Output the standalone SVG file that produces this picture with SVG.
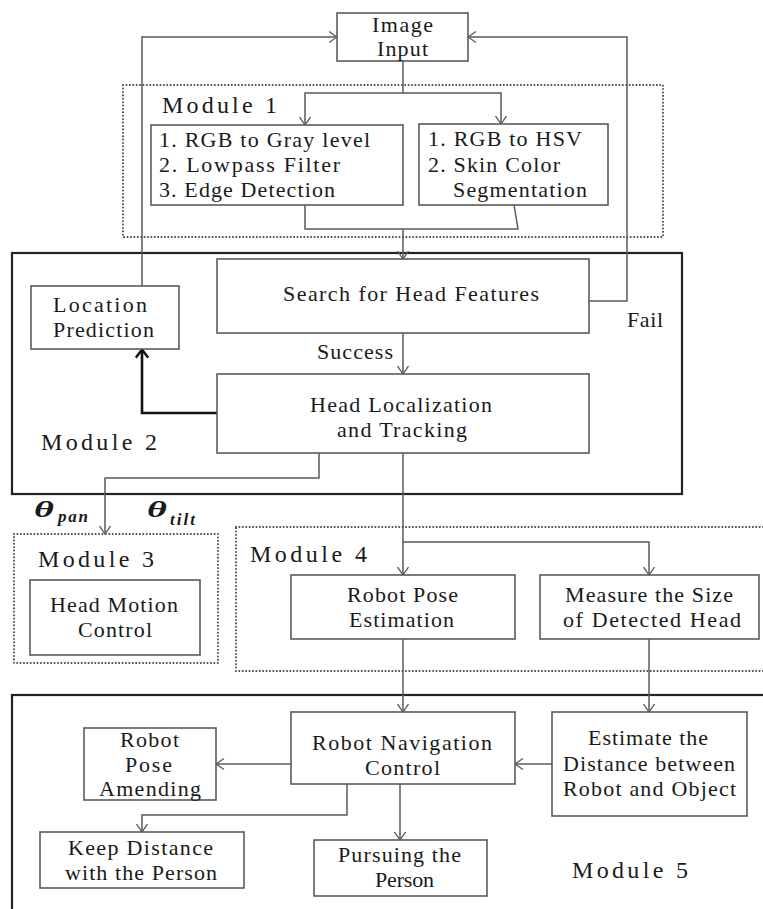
<svg xmlns="http://www.w3.org/2000/svg" width="763" height="909" viewBox="0 0 763 909">
<style>
.bg{fill:#fff}
.box{fill:#fff;stroke:#5a5a5a;stroke-width:1.6}
.mod{fill:none;stroke:#222;stroke-width:2.2}
.dot{fill:none;stroke:#444;stroke-width:1.9;stroke-dasharray:0.1 3.3;stroke-linecap:round}
.c{fill:none;stroke:#5a5a5a;stroke-width:1.5}
.ck{fill:none;stroke:#111;stroke-width:2.6}
text{font-family:"Liberation Serif","Times New Roman",serif;fill:#1a1a1a;font-size:22px}
.m{font-size:24px}
.th{font-style:italic;font-weight:bold;font-size:24px}
.sub{font-style:italic;font-weight:bold;font-size:17px}
</style>
<defs>
<marker id="a" viewBox="0 0 9 12" refX="8.5" refY="6" markerWidth="9" markerHeight="12" markerUnits="userSpaceOnUse" orient="auto">
<path d="M0.5,0.5 L8.5,6 L0.5,11.5" fill="none" stroke="#5a5a5a" stroke-width="1.3"/>
</marker>
<marker id="ak" viewBox="0 0 10 14" refX="9.5" refY="7" markerWidth="10" markerHeight="14" markerUnits="userSpaceOnUse" orient="auto">
<path d="M0.8,0.8 L9,7 L0.8,13.2" fill="none" stroke="#111" stroke-width="2.4"/>
</marker>
</defs>
<rect class="bg" x="0" y="0" width="763" height="909"/>

<g id="module1">
<rect class="dot" x="123" y="85" width="540" height="152"/>
<text class="m" x="162" y="113" textLength="115" lengthAdjust="spacing">Module  1</text>
</g>
<g id="module2">
<rect class="mod" x="12" y="253" width="670" height="241"/>
<text class="m" x="41" y="450" textLength="116" lengthAdjust="spacing">Module  2</text>
</g>
<g id="module3">
<rect class="dot" x="14" y="534" width="204" height="129"/>
<text class="m" x="38" y="567" textLength="116" lengthAdjust="spacing">Module  3</text>
</g>
<g id="module4">
<rect class="dot" x="236" y="527" width="540" height="144"/>
<text class="m" x="250" y="562" textLength="117" lengthAdjust="spacing">Module  4</text>
</g>
<g id="module5">
<rect class="mod" x="12" y="695" width="770" height="230"/>
<text class="m" x="572" y="878" textLength="116" lengthAdjust="spacing">Module  5</text>
</g>

<g id="connectors">
<path class="c" d="M142,286 V37 H337" marker-end="url(#a)"/>
<path class="c" d="M589,301 H627 V37 H468" marker-end="url(#a)"/>
<path class="c" d="M403,61 V93"/>
<path class="c" d="M403,93 H305 V125" marker-end="url(#a)"/>
<path class="c" d="M403,93 H501 V124" marker-end="url(#a)"/>
<path class="c" d="M305,205 V229 H518 L514,205"/>
<path class="c" d="M403,229 V259" marker-end="url(#a)"/>
<path class="c" d="M403,333 V374" marker-end="url(#a)"/>
<path class="ck" d="M217,413 H142 V349" marker-end="url(#ak)"/>
<path class="c" d="M319,453 V478 H105 V534" marker-end="url(#a)"/>
<path class="c" d="M403,453 V575" marker-end="url(#a)"/>
<path class="c" d="M403,542 H649 V575" marker-end="url(#a)"/>
<path class="c" d="M403,639 V712" marker-end="url(#a)"/>
<path class="c" d="M649,639 V712" marker-end="url(#a)"/>
<path class="c" d="M552,764 H515" marker-end="url(#a)"/>
<path class="c" d="M291,764 H216" marker-end="url(#a)"/>
<path class="c" d="M347,784 V815 H142 V832" marker-end="url(#a)"/>
<path class="c" d="M400,784 V840" marker-end="url(#a)"/>
<text x="317" y="359" textLength="76" lengthAdjust="spacing">Success</text>
<text x="627" y="327" textLength="36" lengthAdjust="spacing">Fail</text>
<text class="th" transform="translate(34,517) scale(1.6,1)">θ</text>
<text class="sub" x="58" y="522" textLength="30" lengthAdjust="spacing">pan</text>
<text class="th" transform="translate(147,517) scale(1.6,1)">θ</text>
<text class="sub" x="170" y="525" textLength="25" lengthAdjust="spacing">tilt</text>
</g>

<g id="image-input">
<rect class="box" x="337" y="13" width="131" height="48"/>
<text x="372" y="32" textLength="61" lengthAdjust="spacing">Image</text>
<text x="377" y="56" textLength="51" lengthAdjust="spacing">Input</text>
</g>
<g id="gray-edge">
<rect class="box" x="151" y="125" width="252" height="80"/>
<text x="159" y="147" textLength="211" lengthAdjust="spacing">1. RGB to Gray level</text>
<text x="159" y="172" textLength="181" lengthAdjust="spacing">2. Lowpass Filter</text>
<text x="159" y="197" textLength="176" lengthAdjust="spacing">3. Edge Detection</text>
</g>
<g id="hsv-skin">
<rect class="box" x="419" y="124" width="189" height="81"/>
<text x="428" y="146" textLength="154" lengthAdjust="spacing">1. RGB to HSV</text>
<text x="428" y="172" textLength="132" lengthAdjust="spacing">2. Skin Color</text>
<text x="453" y="197" textLength="134" lengthAdjust="spacing">Segmentation</text>
</g>
<g id="search">
<rect class="box" x="217" y="259" width="372" height="74"/>
<text x="283" y="301" textLength="256" lengthAdjust="spacing">Search for  Head Features</text>
</g>
<g id="location-prediction">
<rect class="box" x="31" y="286" width="148" height="63"/>
<text x="53" y="312" textLength="94" lengthAdjust="spacing">Location</text>
<text x="53" y="337" textLength="101" lengthAdjust="spacing">Prediction</text>
</g>
<g id="head-localization">
<rect class="box" x="217" y="374" width="372" height="79"/>
<text x="310" y="412" textLength="182" lengthAdjust="spacing">Head Localization</text>
<text x="337" y="437" textLength="130" lengthAdjust="spacing">and Tracking</text>
</g>
<g id="head-motion">
<rect class="box" x="30" y="580" width="170" height="75"/>
<text x="50" y="612" textLength="128" lengthAdjust="spacing">Head Motion</text>
<text x="78" y="637" textLength="74" lengthAdjust="spacing">Control</text>
</g>
<g id="robot-pose-estimation">
<rect class="box" x="291" y="575" width="224" height="64"/>
<text x="347" y="602" textLength="111" lengthAdjust="spacing">Robot Pose</text>
<text x="349" y="627" textLength="105" lengthAdjust="spacing">Estimation</text>
</g>
<g id="measure-size">
<rect class="box" x="540" y="575" width="219" height="64"/>
<text x="565" y="602" textLength="168" lengthAdjust="spacing">Measure the Size</text>
<text x="563" y="627" textLength="178" lengthAdjust="spacing">of  Detected Head</text>
</g>
<g id="robot-navigation">
<rect class="box" x="291" y="712" width="224" height="72"/>
<text x="312" y="750" textLength="180" lengthAdjust="spacing">Robot  Navigation</text>
<text x="365" y="775" textLength="75" lengthAdjust="spacing">Control</text>
</g>
<g id="estimate-distance">
<rect class="box" x="552" y="712" width="195" height="104"/>
<text x="588" y="745" textLength="120" lengthAdjust="spacing">Estimate the</text>
<text x="563" y="771" textLength="172" lengthAdjust="spacing">Distance between</text>
<text x="563" y="796" textLength="173" lengthAdjust="spacing">Robot and Object</text>
</g>
<g id="robot-pose-amending">
<rect class="box" x="84" y="728" width="132" height="72"/>
<text x="120" y="747" textLength="59" lengthAdjust="spacing">Robot</text>
<text x="125" y="772" textLength="47" lengthAdjust="spacing">Pose</text>
<text x="99" y="796" textLength="102" lengthAdjust="spacing">Amending</text>
</g>
<g id="keep-distance">
<rect class="box" x="40" y="832" width="204" height="56"/>
<text x="68" y="855" textLength="145" lengthAdjust="spacing">Keep Distance</text>
<text x="65" y="880" textLength="152" lengthAdjust="spacing">with the Person</text>
</g>
<g id="pursuing">
<rect class="box" x="314" y="840" width="173" height="56"/>
<text x="338" y="862" textLength="123" lengthAdjust="spacing">Pursuing the</text>
<text x="375" y="887" textLength="59" lengthAdjust="spacing">Person</text>
</g>
</svg>
